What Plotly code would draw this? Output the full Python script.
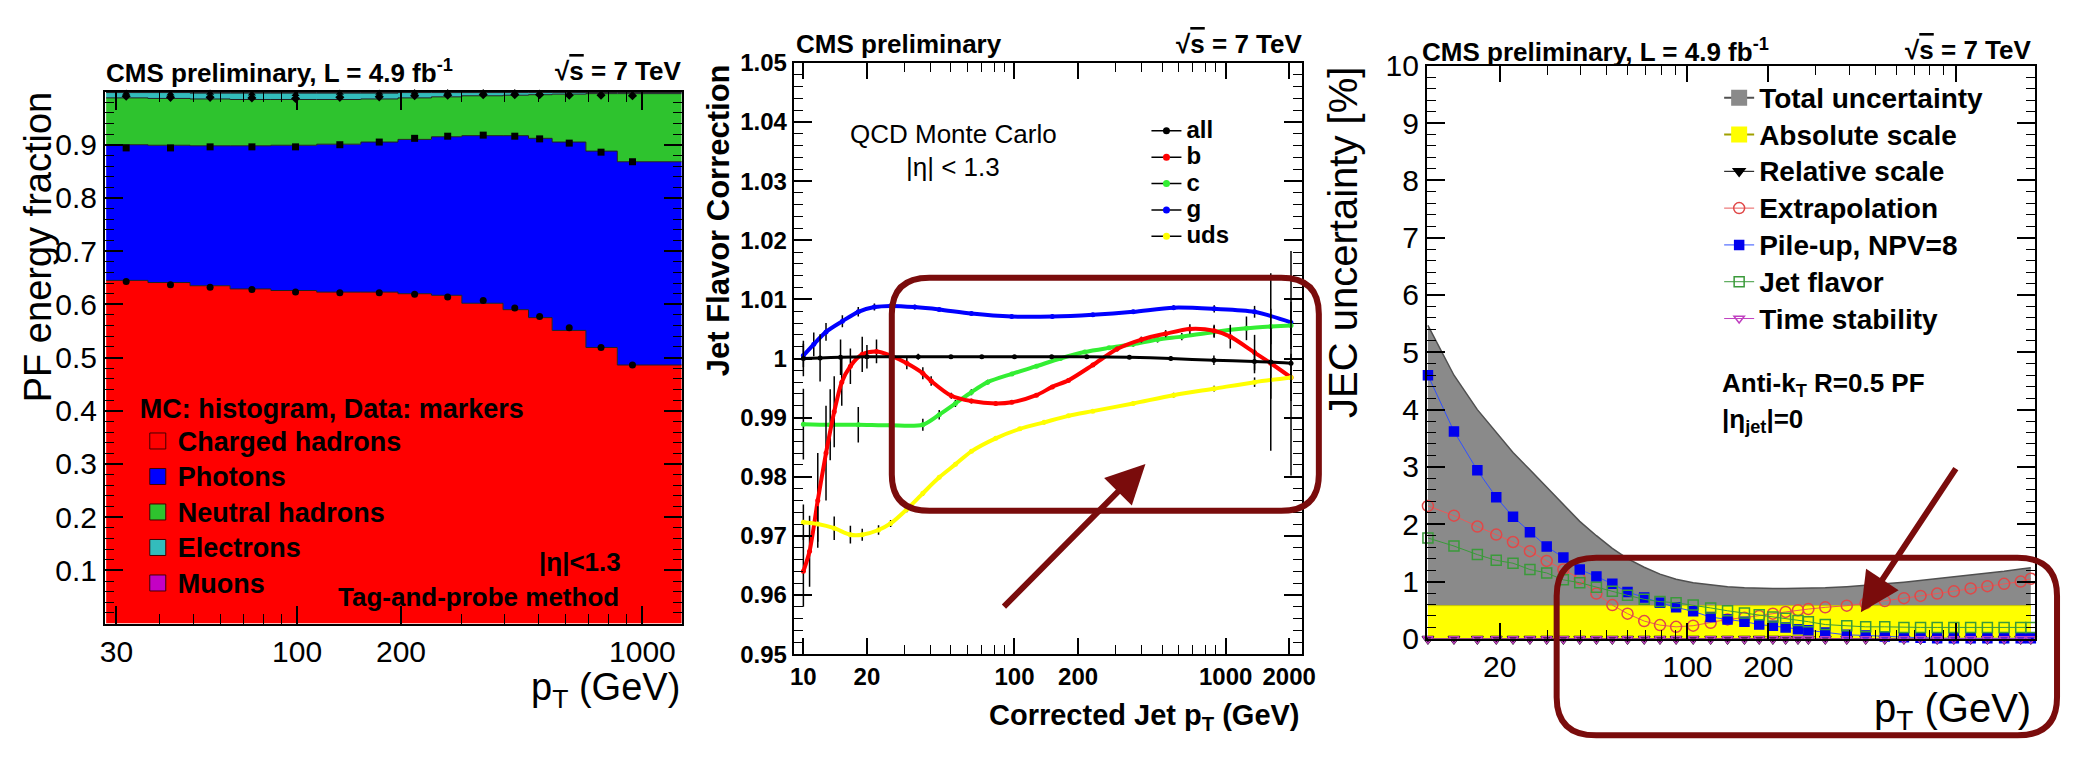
import numpy as np
import plotly.graph_objects as go

W, H = 2074, 760
def px(x): return x / W
def py(y): return 1 - y / H

FONT = "Liberation Sans, Arial, Helvetica, sans-serif"
MAROON = "#7a0c0c"

# ---------------- Left panel: PF energy fractions ----------------
pf_bin_edges = [28, 37, 49, 64, 84, 114, 153, 196, 245, 300, 395, 468, 548, 686, 846, 1300]
pf_mc_charged   = [0.645, 0.641, 0.635, 0.629, 0.626, 0.623, 0.623, 0.620, 0.617, 0.602, 0.590, 0.575, 0.551, 0.519, 0.486]
pf_mc_photons   = [0.255, 0.258, 0.263, 0.269, 0.273, 0.278, 0.282, 0.290, 0.298, 0.315, 0.327, 0.337, 0.354, 0.369, 0.382]
pf_mc_neutral   = [0.088, 0.088, 0.088, 0.087, 0.086, 0.084, 0.081, 0.078, 0.075, 0.075, 0.076, 0.082, 0.090, 0.108, 0.128]
pf_mc_electrons = [0.010, 0.011, 0.011, 0.012, 0.012, 0.012, 0.011, 0.010, 0.008, 0.006, 0.005, 0.004, 0.003, 0.002, 0.002]
pf_mc_muons     = [0.001, 0.001, 0.001, 0.001, 0.001, 0.001, 0.001, 0.001, 0.001, 0.001, 0.001, 0.001, 0.001, 0.001, 0.001]

pf_data_pt        = [32, 43, 56, 74, 99, 133, 173, 219, 273, 346, 427, 504, 614, 759, 936]
pf_data_charged   = [0.643, 0.637, 0.632, 0.628, 0.623, 0.622, 0.622, 0.619, 0.614, 0.607, 0.593, 0.577, 0.556, 0.519, 0.486]
pf_data_photons   = [0.251, 0.257, 0.264, 0.268, 0.273, 0.278, 0.283, 0.293, 0.302, 0.311, 0.323, 0.334, 0.347, 0.367, 0.382]
pf_data_neutral   = [0.097, 0.095, 0.093, 0.092, 0.091, 0.089, 0.085, 0.080, 0.077, 0.076, 0.078, 0.083, 0.090, 0.107, 0.124]
pf_data_electrons = [0.006, 0.007, 0.008, 0.008, 0.008, 0.008, 0.007, 0.006, 0.005, 0.004, 0.004, 0.003, 0.003, 0.002, 0.002]

pf_names  = ["Charged hadrons", "Photons", "Neutral hadrons", "Electrons", "Muons"]
pf_colors = ["#ff0000", "#0000ff", "#2ec32e", "#33bcbc", "#c400c4"]
pf_xticks = [30, 100, 200, 1000]

# ---------------- Middle panel: jet flavor correction ----------------
jfc_all_pt  = [10, 12, 15, 20, 26, 35, 50, 70, 100, 150, 220, 350, 550, 880, 1370, 1636, 2040]
jfc_all     = [1.0000, 1.0001, 1.0002, 1.0003, 1.0003, 1.0003, 1.0003, 1.0003, 1.0003, 1.0003, 1.0003, 1.0002, 1.0000, 0.9997, 0.9995, 0.9994, 0.9992]
jfc_all_err = [0.003, 0.004, 0.003, 0.002, 0.001, 0.0005, 0.0003, 0.0003, 0.0003, 0.0003, 0.0003, 0.0003, 0.0004, 0.0008, 0.002, 0.015, 0.019]

jfc_b_pt  = [10.0, 10.7, 11.7, 12.8, 14.0, 15.2, 16.7, 19.0, 22.2, 25.9, 30.9, 36.8, 40.3, 50.2, 62.5, 81.5, 97.2, 127, 151, 180, 235, 306, 399, 520, 677, 882, 1052, 1371, 1636, 2040]
jfc_b     = [0.964, 0.9674, 0.976, 0.984, 0.991, 0.996, 0.9987, 1.0007, 1.0012, 1.0005, 0.9992, 0.9975, 0.9962, 0.9937, 0.9928, 0.9924, 0.9926, 0.9938, 0.9952, 0.9963, 0.9989, 1.0016, 1.0032, 1.0042, 1.0050, 1.0047, 1.0037, 1.0010, 0.9992, 0.9968]
jfc_b_err = [0.006, 0.006, 0.008, 0.008, 0.006, 0.004, 0.003, 0.003, 0.002, 0.0015, 0.001, 0.001, 0.0008, 0.0005, 0.0004, 0.0003, 0.0003, 0.0003, 0.0003, 0.0003, 0.0003, 0.0004, 0.0005, 0.0006, 0.0008, 0.001, 0.002, 0.003, 0.006, 0.004]

jfc_c_pt  = [10.0, 13.4, 18.2, 25.9, 36.8, 44.0, 52.5, 62.5, 74.6, 97.2, 127, 165, 215, 280, 365, 476, 620, 882, 1255, 1636, 2040]
jfc_c     = [0.9889, 0.9888, 0.9888, 0.9887, 0.9888, 0.9905, 0.9924, 0.9943, 0.9960, 0.9974, 0.9987, 1.0000, 1.0011, 1.0018, 1.0024, 1.0032, 1.0037, 1.0045, 1.0051, 1.0054, 1.0056]
jfc_c_err = [0.006, 0.006, 0.003, 0.002, 0.001, 0.0008, 0.0006, 0.0005, 0.0004, 0.0003, 0.0003, 0.0003, 0.0003, 0.0003, 0.0004, 0.0005, 0.0006, 0.001, 0.002, 0.003, 0.004]

jfc_g_pt  = [10.0, 11.2, 12.8, 15.3, 18.2, 21.7, 25.9, 33.7, 44, 62.5, 97, 151, 235, 365, 567, 883, 1371, 2038]
jfc_g     = [1.0005, 1.0024, 1.0045, 1.0063, 1.0079, 1.0087, 1.0089, 1.0087, 1.0083, 1.0076, 1.0071, 1.0071, 1.0074, 1.0079, 1.0086, 1.0084, 1.0079, 1.0061]
jfc_g_err = [0.002, 0.002, 0.0015, 0.001, 0.0008, 0.0006, 0.0005, 0.0004, 0.0003, 0.0003, 0.0003, 0.0003, 0.0003, 0.0003, 0.0004, 0.0006, 0.001, 0.002]

jfc_uds_pt  = [10.0, 11.7, 14.0, 16.7, 19.0, 22.7, 25.9, 30.9, 36.8, 44.0, 52.5, 62.5, 81.5, 106, 138, 180, 235, 365, 567, 882, 1371, 2040]
jfc_uds     = [0.9723, 0.9720, 0.9713, 0.9702, 0.9702, 0.9710, 0.9721, 0.9745, 0.9772, 0.9799, 0.9821, 0.9843, 0.9865, 0.9881, 0.9892, 0.9903, 0.9911, 0.9924, 0.9938, 0.9949, 0.9960, 0.9968]
jfc_uds_err = [0.003, 0.003, 0.002, 0.0015, 0.001, 0.0008, 0.0006, 0.0005, 0.0004, 0.0003, 0.0003, 0.0003, 0.0003, 0.0003, 0.0003, 0.0003, 0.0003, 0.0003, 0.0004, 0.0005, 0.0008, 0.001]

jfc_names  = ["all", "b", "c", "g", "uds"]
jfc_colors = ["#000000", "#ff0000", "#33ee33", "#0000ff", "#ffff00"]
jfc_xticks = [10, 20, 100, 200, 1000, 2000]
jfc_yticks = [0.95, 0.96, 0.97, 0.98, 0.99, 1.00, 1.01, 1.02, 1.03, 1.04, 1.05]
jfc_yticktext = ["0.95", "0.96", "0.97", "0.98", "0.99", "1", "1.01", "1.02", "1.03", "1.04", "1.05"]

# ---------------- Right panel: JEC uncertainty ----------------
unc_pt = [10.8, 13.5, 16.5, 19.4, 22.4, 25.9, 29.9, 34.5, 39.7, 45.8, 52.5, 59.8, 69, 79, 90.7, 105, 122, 141, 163, 185,
          208, 232, 258, 282, 326, 392, 461, 543, 640, 738, 851, 982, 1134, 1309, 1511, 1742, 1900]
unc_total = [5.47, 4.60, 4.00, 3.60, 3.25, 2.95, 2.65, 2.35, 2.05, 1.80, 1.58, 1.40, 1.25, 1.13, 1.04, 0.98, 0.94, 0.91, 0.89, 0.88,
             0.88, 0.88, 0.88, 0.88, 0.89, 0.91, 0.93, 0.96, 0.99, 1.02, 1.05, 1.08, 1.11, 1.14, 1.18, 1.22, 1.24]
unc_absolute = [0.58, 0.58, 0.58, 0.58, 0.58, 0.58, 0.58, 0.58, 0.58, 0.58, 0.58, 0.58, 0.58, 0.58, 0.58, 0.58, 0.58, 0.58, 0.58, 0.58,
                0.58, 0.58, 0.58, 0.58, 0.58, 0.58, 0.58, 0.58, 0.58, 0.58, 0.58, 0.58, 0.58, 0.58, 0.58, 0.58, 0.58]
unc_relative = [0, 0, 0, 0, 0, 0, 0, 0, 0, 0, 0, 0, 0, 0, 0, 0, 0, 0, 0, 0,
                0, 0, 0, 0, 0, 0, 0, 0, 0, 0, 0, 0, 0, 0, 0, 0, 0]
unc_extrapolation = [2.32, 2.15, 1.96, 1.82, 1.69, 1.53, 1.36, 1.21, 1.05, 0.79, 0.59, 0.44, 0.31, 0.24, 0.21, 0.23, 0.28, 0.34, 0.37, 0.40,
                     0.44, 0.47, 0.50, 0.52, 0.55, 0.58, 0.62, 0.66, 0.71, 0.75, 0.79, 0.83, 0.88, 0.92, 0.96, 1.00, 1.05]
unc_pileup = [4.60, 3.62, 2.94, 2.47, 2.13, 1.86, 1.61, 1.42, 1.21, 1.09, 0.96, 0.82, 0.72, 0.63, 0.55, 0.48, 0.38, 0.34, 0.30, 0.25,
              0.23, 0.20, 0.17, 0.15, 0.11, 0.07, 0.06, 0.04, 0.03, 0.02, 0.01, 0.01, 0.01, 0.01, 0.01, 0.01, 0.01]
unc_flavor = [1.76, 1.62, 1.47, 1.37, 1.32, 1.21, 1.15, 1.03, 0.98, 0.90, 0.83, 0.76, 0.69, 0.65, 0.63, 0.59, 0.54, 0.49, 0.45, 0.42,
              0.38, 0.36, 0.32, 0.30, 0.25, 0.23, 0.21, 0.21, 0.20, 0.20, 0.20, 0.20, 0.20, 0.20, 0.20, 0.20, 0.20]
unc_time = [0, 0, 0, 0, 0, 0, 0, 0, 0, 0, 0, 0, 0, 0, 0, 0, 0, 0, 0, 0,
            0, 0, 0, 0, 0, 0, 0, 0, 0, 0, 0, 0, 0, 0, 0, 0, 0]
unc_xticks = [20, 100, 200, 1000]
unc_yticks = [0, 1, 2, 3, 4, 5, 6, 7, 8, 9, 10]

fig = go.Figure()

def span(t, size):
    return f"<span style='font-size:{size}px'>{t}</span>"

# ---- Left: stacked step histogram (MC) ----
comps = [pf_mc_charged, pf_mc_photons, pf_mc_neutral, pf_mc_electrons, pf_mc_muons]
cum = np.zeros(len(pf_mc_charged))
for i, (vals, col) in enumerate(zip(comps, pf_colors)):
    cum = cum + np.array(vals)
    yy = list(cum) + [cum[-1]]
    fig.add_trace(go.Scatter(x=pf_bin_edges, y=yy, mode="lines", line=dict(shape="hv", color="#202020", width=1),
                             fill="tozeroy" if i == 0 else "tonexty", fillcolor=col, showlegend=False,
                             hoverinfo="skip", xaxis="x", yaxis="y"))

# ---- Left: data markers ----
dcomps = [pf_data_charged, pf_data_photons, pf_data_neutral, pf_data_electrons]
dsyms = ["circle", "square", "diamond", "triangle-up"]
dcum = np.zeros(len(pf_data_pt))
for vals, sym in zip(dcomps, dsyms):
    dcum = dcum + np.array(vals)
    fig.add_trace(go.Scatter(x=pf_data_pt, y=list(dcum), mode="markers",
                             marker=dict(color="black", size=7, symbol=sym),
                             error_y=dict(type="constant", value=0.004, color="black", thickness=1.5, width=0),
                             showlegend=False, xaxis="x", yaxis="y", cliponaxis=False))

# ---- Left: legend entries ----
for k, (name, col) in enumerate(zip(pf_names, pf_colors)):
    fig.add_trace(go.Scatter(x=[None], y=[None], mode="markers", name=span(name, 27),
                             marker=dict(symbol="square", size=16, color=col, line=dict(color="#400000", width=1)),
                             legend="legend", legendrank=k + 1, xaxis="x", yaxis="y"))

# ---- Middle: flavor corrections ----
mid_series = [(jfc_all_pt, jfc_all, jfc_all_err), (jfc_b_pt, jfc_b, jfc_b_err), (jfc_c_pt, jfc_c, jfc_c_err),
              (jfc_g_pt, jfc_g, jfc_g_err), (jfc_uds_pt, jfc_uds, jfc_uds_err)]
for i in [3, 2, 1, 4, 0]:
    xs, ys, es = mid_series[i]
    fig.add_trace(go.Scatter(x=xs, y=ys, mode="lines+markers", showlegend=False,
                             line=dict(color=jfc_colors[i], width=4 if i else 3, shape="spline", smoothing=0.8),
                             marker=dict(color=jfc_colors[i], size=5),
                             error_y=dict(type="data", array=es, color="black", thickness=1.5, width=0),
                             xaxis="x2", yaxis="y2"))
for i, (name, col) in enumerate(zip(jfc_names, jfc_colors)):
    fig.add_trace(go.Scatter(x=[None], y=[None], mode="lines+markers", name=span(name, 24),
                             line=dict(color="black", width=1.5), marker=dict(color=col, size=7),
                             legend="legend2", legendrank=i + 1, xaxis="x2", yaxis="y2"))

# ---- Right: uncertainty bands ----
fig.add_trace(go.Scatter(x=unc_pt, y=unc_total, mode="lines", fill="tozeroy", fillcolor="#8a8a8a",
                         line=dict(color="#505050", width=1.5), showlegend=False, xaxis="x3", yaxis="y3"))
fig.add_trace(go.Scatter(x=unc_pt, y=unc_absolute, mode="lines", fill="tozeroy", fillcolor="#ffff00",
                         line=dict(color="#c8c800", width=1), showlegend=False, xaxis="x3", yaxis="y3"))
fig.add_trace(go.Scatter(x=[None], y=[None], mode="lines+markers", name=span("Total uncertainty", 28),
                         marker=dict(symbol="square", size=16, color="#8a8a8a"), line=dict(color="#505050", width=2),
                         legend="legend3", legendrank=1, xaxis="x3", yaxis="y3"))
fig.add_trace(go.Scatter(x=[None], y=[None], mode="lines+markers", name=span("Absolute scale", 28),
                         marker=dict(symbol="square", size=16, color="#ffff00"), line=dict(color="#a0a000", width=2),
                         legend="legend3", legendrank=2, xaxis="x3", yaxis="y3"))

right_series = [
    ("Relative scale", unc_relative, "#000000", "#000000", "triangle-down", 10),
    ("Extrapolation", unc_extrapolation, "#e04848", "#e85a5a", "circle-open", 11),
    ("Pile-up, NPV=8", unc_pileup, "#0000ee", "#3050ff", "square", 9),
    ("Jet flavor", unc_flavor, "#3a9a3a", "#3a9a3a", "square-open", 10),
    ("Time stability", unc_time, "#c040c0", "#c040c0", "triangle-down-open", 9),
]
for k, (name, vals, mcol, lcol, sym, size) in enumerate(right_series):
    fig.add_trace(go.Scatter(x=unc_pt, y=vals, mode="lines+markers", name=span(name, 28),
                             line=dict(color=lcol, width=1),
                             marker=dict(symbol=sym, size=size, color=mcol, line=dict(color=mcol, width=1.5)),
                             legend="legend3", legendrank=k + 3, xaxis="x3", yaxis="y3", cliponaxis=False))

# ---------------- Axes ----------------
def axis(domain, anchor, tickfont, **kw):
    d = dict(domain=domain, anchor=anchor, showline=True, linecolor="black", linewidth=2, mirror="allticks",
             ticks="inside", tickcolor="black", tickwidth=1.5, showgrid=False, zeroline=False,
             tickfont=tickfont)
    d.update(kw)
    return d

reg = lambda s: dict(family=FONT, size=s, color="black")
bold = lambda s: dict(family=FONT, size=s, color="black", weight="bold")

minor_log = [40, 50, 60, 70, 80, 90, 300, 400, 500, 600, 700, 800, 900]

fig.update_layout(
    xaxis=axis([px(101), px(683)], "y", reg(30), type="log", range=[np.log10(27.8), np.log10(1300)],
               tickvals=pf_xticks, ticktext=[str(v) for v in pf_xticks], ticklen=18,
               minor=dict(ticks="inside", ticklen=10, tickcolor="black", tickwidth=1.2, tickvals=minor_log)),
    yaxis=axis([py(635), py(78)], "x", reg(30), range=[0, 1.0],
               tickvals=[0.1, 0.2, 0.3, 0.4, 0.5, 0.6, 0.7, 0.8, 0.9],
               ticktext=["0.1", "0.2", "0.3", "0.4", "0.5", "0.6", "0.7", "0.8", "0.9"], ticklen=18,
               minor=dict(ticks="inside", ticklen=9, tickcolor="black", tickwidth=1.2, dtick=0.02, tick0=0)),
    xaxis2=axis([px(796), px(1309)], "y2", bold(24), type="log", range=[np.log10(9.0), np.log10(2300)],
                tickvals=jfc_xticks, ticktext=[str(v) for v in jfc_xticks], ticklen=16,
                minor=dict(ticks="inside", ticklen=9, tickcolor="black", tickwidth=1.2,
                           tickvals=[30, 40, 50, 60, 70, 80, 90, 300, 400, 500, 600, 700, 800, 900])),
    yaxis2=axis([py(667), py(48)], "x2", bold(24), range=[0.95, 1.05],
                tickvals=jfc_yticks, ticktext=jfc_yticktext, ticklen=18,
                minor=dict(ticks="inside", ticklen=9, tickcolor="black", tickwidth=1.2, dtick=0.002, tick0=0.95)),
    xaxis3=axis([px(1435), px(2049)], "y3", reg(30), type="log", range=[np.log10(10.7), np.log10(1973)],
                tickvals=unc_xticks, ticktext=[str(v) for v in unc_xticks], ticklen=16,
                minor=dict(ticks="inside", ticklen=9, tickcolor="black", tickwidth=1.2,
                           tickvals=[30, 40, 50, 60, 70, 80, 90, 300, 400, 500, 600, 700, 800, 900])),
    yaxis3=axis([py(651), py(51)], "x3", reg(30), range=[0, 10],
                tickvals=unc_yticks, ticktext=[str(v) for v in unc_yticks], ticklen=18,
                minor=dict(ticks="inside", ticklen=9, tickcolor="black", tickwidth=1.2, dtick=0.2, tick0=0)),
)

# ---------------- Legends ----------------
fig.update_layout(
    legend=dict(x=px(134), y=py(386), xanchor="left", yanchor="top", bgcolor="rgba(0,0,0,0)",
                font=bold(25), traceorder="normal",
                title=dict(text=span("MC: histogram, Data: markers", 27), font=bold(25)),
                itemclick=False, tracegroupgap=0),
    legend2=dict(x=px(1152), y=py(100), xanchor="left", yanchor="top", bgcolor="rgba(0,0,0,0)",
                 font=bold(18), traceorder="normal", itemclick=False, tracegroupgap=0),
    legend3=dict(x=px(1730), y=py(60), xanchor="left", yanchor="top", bgcolor="rgba(0,0,0,0)",
                 font=bold(26), traceorder="normal", itemclick=False, tracegroupgap=0),
)

# ---------------- Text annotations ----------------
ann = []
def text(x, y, t, font, xa="center", ya="middle", angle=0):
    ann.append(dict(x=px(x), y=py(y), xref="paper", yref="paper", text=t, showarrow=False,
                    xanchor=xa, yanchor=ya, font=font, textangle=angle))

sqrt_s = "√<span style='text-decoration:overline'>s</span> = 7 TeV"
# titles
text(100, 57, "CMS preliminary, L = 4.9 fb<sup>-1</sup>", bold(26), xa="left")
text(684, 57, sqrt_s, bold(26), xa="right")
text(796, 28, "CMS preliminary", bold(26), xa="left")
text(1311, 28, sqrt_s, bold(26), xa="right")
text(1428, 35, "CMS preliminary, L = 4.9 fb<sup>-1</sup>", bold(26), xa="left")
text(2047, 35, sqrt_s, bold(26), xa="right")
# axis titles
text(33, 77, "PF energy fraction", reg(38), ya="top", angle=-90)
text(683, 705, "p<sub>T</sub> (GeV)", reg(38), xa="right")
text(721, 47, "<b>Jet Flavor Correction</b>", bold(31), ya="top", angle=-90)
text(1309, 733, "<b>Corrected Jet p<sub>T</sub> (GeV)</b>", bold(29), xa="right")
text(1351, 50, "JEC uncertainty [%]", reg(40), ya="top", angle=-90)
text(2047, 727, "p<sub>T</sub> (GeV)", reg(40), xa="right")
# in-plot labels
text(580, 570, "<b>|η|<1.3</b>", bold(26))
text(478, 607, "<b>Tag-and-probe method</b>", bold(26))
text(957, 122, "QCD Monte Carlo", reg(26))
text(957, 157, "|η| < 1.3", reg(26))
text(1731, 385, "<b>Anti-k<sub>T</sub> R=0.5 PF</b>", bold(26), xa="left")
text(1731, 422, "<b>|η<sub>jet</sub>|=0</b>", bold(26), xa="left")

# highlight arrows
ann.append(dict(x=px(1151), y=py(468), xref="paper", yref="paper", ax=-143, ay=144, axref="pixel", ayref="pixel",
                showarrow=True, arrowhead=2, arrowsize=1.3, arrowwidth=6, arrowcolor=MAROON, text=""))
ann.append(dict(x=px(1873), y=py(623), xref="paper", yref="paper", ax=96, ay=-145, axref="pixel", ayref="pixel",
                showarrow=True, arrowhead=2, arrowsize=1.3, arrowwidth=6, arrowcolor=MAROON, text=""))
fig.update_layout(annotations=ann)

# highlight rounded boxes
def rounded(x0, y0, x1, y1, r):
    rx, ry = r / W, r / H
    X0, X1 = px(x0), px(x1)
    Y0, Y1 = py(y1), py(y0)
    return (f"M {X0+rx},{Y1} L {X1-rx},{Y1} Q {X1},{Y1} {X1},{Y1-ry} L {X1},{Y0+ry} Q {X1},{Y0} {X1-rx},{Y0} "
            f"L {X0+rx},{Y0} Q {X0},{Y0} {X0},{Y0+ry} L {X0},{Y1-ry} Q {X0},{Y1} {X0+rx},{Y1} Z")

fig.update_layout(shapes=[
    dict(type="path", xref="paper", yref="paper", path=rounded(895, 273, 1326, 517, 38),
         line=dict(color=MAROON, width=6)),
    dict(type="path", xref="paper", yref="paper", path=rounded(1566, 566, 2071, 752, 40),
         line=dict(color=MAROON, width=6)),
])

fig.update_layout(width=W, height=H, margin=dict(l=0, r=0, t=0, b=0),
                  paper_bgcolor="white", plot_bgcolor="white",
                  font=dict(family=FONT, color="black"))

fig.write_html("out.html")
